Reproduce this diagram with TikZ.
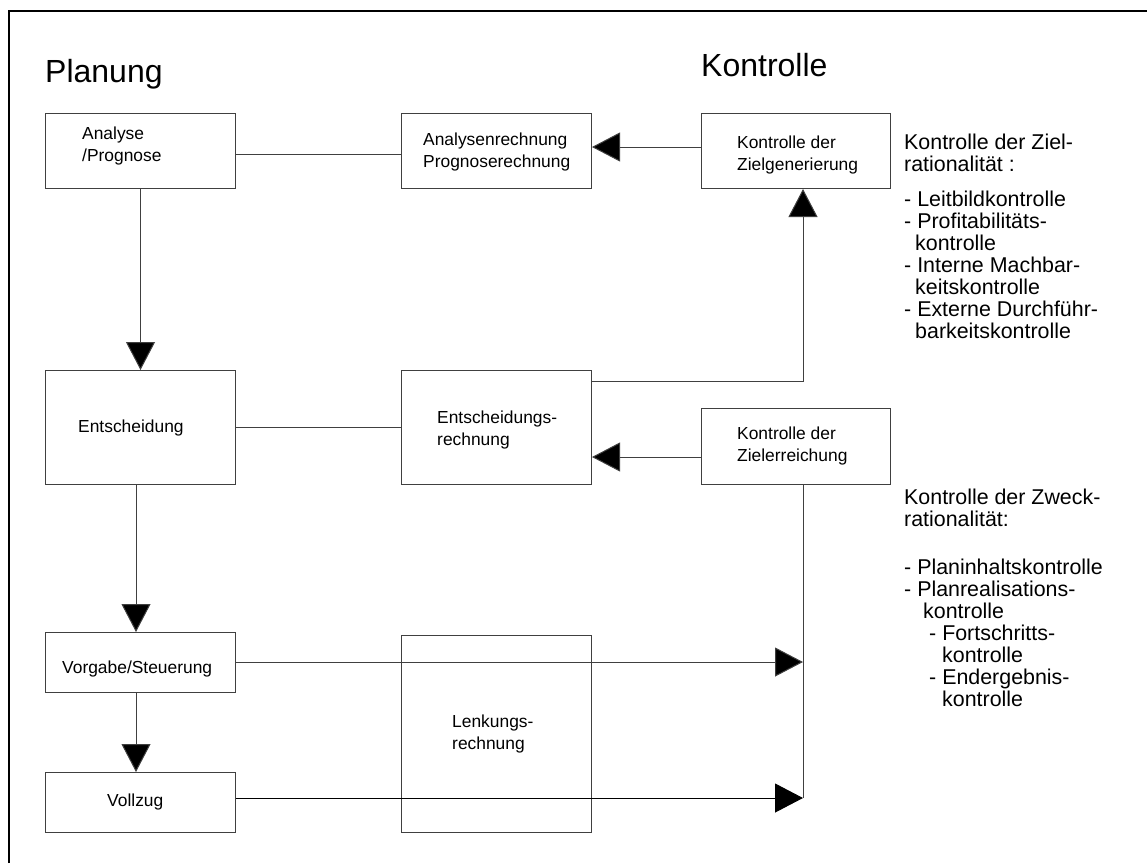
\documentclass[tikz,border=0pt]{standalone}
\usepackage{fontspec}
\setmainfont{Liberation Sans}
\usetikzlibrary{arrows.meta}
\begin{document}
\begin{tikzpicture}[x=1pt,y=-1pt,
  frame/.style={draw=black,line width=2pt},
  box/.style={draw=black!75,line width=1pt,rectangle,inner sep=0pt,anchor=north west},
  link/.style={draw=black!75,line width=1pt},
  arr/.style={link,-{Triangle[length=28pt,width=29pt,fill=black]}},
  boxtext/.style={inner sep=0pt,align=left,font=\fontsize{17.4}{22.5}\selectfont},
  title/.style={inner sep=0pt,font=\fontsize{32}{38}\selectfont},
  note/.style={inner sep=0pt,align=left,font=\fontsize{21.4}{22}\selectfont}]

\useasboundingbox (0,0) rectangle (1147,863);

% outer frame (left and top edges)
\draw[frame] (9,863) -- (9,11) -- (1147,11);

% headings
\node[title,anchor=base west] (plan) at (45,82) {Planung};
\node[title,anchor=base west] (kon) at (701,76) {Kontrolle};

% boxes
\node[box,minimum width=190pt,minimum height=75pt]  (ana) at (45,113) {};
\node[box,minimum width=190pt,minimum height=75pt]  (anr) at (401,113) {};
\node[box,minimum width=189pt,minimum height=75pt]  (kzg) at (701,113) {};
\node[box,minimum width=190pt,minimum height=114pt] (ent) at (45,370) {};
\node[box,minimum width=190pt,minimum height=114pt] (enr) at (401,370) {};
\node[box,minimum width=189pt,minimum height=76pt]  (kze) at (701,408) {};
\node[box,minimum width=190pt,minimum height=60pt]  (vor) at (45,632) {};
\node[box,minimum width=190pt,minimum height=60pt]  (vol) at (45,772) {};
\node[box,minimum width=190pt,minimum height=197pt] (len) at (401,635) {};

% box labels
\node[boxtext,anchor=north west] (ana-t) at (82,126.5) {Analyse\\/Prognose};
\node[boxtext,anchor=north west] (anr-t) at (423,132.5) {Analysenrechnung\\Prognoserechnung};
\node[boxtext,anchor=north west] (kzg-t) at (737,135.5) {Kontrolle der\\Zielgenerierung};
\node[boxtext,anchor=base west]  (ent-t) at (78,432) {Entscheidung};
\node[boxtext,anchor=north west] (enr-t) at (437,410.5) {Entscheidungs-\\rechnung};
\node[boxtext,anchor=north west] (kze-t) at (737,426.5) {Kontrolle der\\Zielerreichung};
\node[boxtext,anchor=base west]  (vor-t) at (62,673) {Vorgabe/Steuerung};
\node[boxtext,anchor=base west]  (vol-t) at (107,806) {Vollzug};
\node[boxtext,anchor=north west] (len-t) at (452,714.5) {Lenkungs-\\rechnung};

% side notes
\node[note,anchor=north west] (zr) at (904,134.2) {Kontrolle der Ziel-\\rationalität :\\[13pt]- Leitbildkontrolle\\- Profitabilitäts-\\\hspace*{11pt}kontrolle\\- Interne Machbar-\\\hspace*{11pt}keitskontrolle\\- Externe Durchführ-\\\hspace*{11pt}barkeitskontrolle};
\node[note,anchor=north west] (zw) at (904,489.2) {Kontrolle der Zweck-\\rationalität:\\[26pt]- Planinhaltskontrolle\\- Planrealisations-\\\hspace*{19pt}kontrolle\\\hspace*{25pt}- Fortschritts-\\\hspace*{38pt}kontrolle\\\hspace*{25pt}- Endergebnis-\\\hspace*{38pt}kontrolle};

% routing guides
\coordinate (gA) at (0,154);
\coordinate (gB) at (0,147);
\coordinate (gC) at (0,381);
\coordinate (gD) at (0,457);
\coordinate (xL) at (136,0);
\coordinate (busv) at (803,662);
\coordinate (bus) at (803,798);

% connectors
\draw[link] (ana.east |- gA) -- (anr.west |- gA);
\draw[arr] (kzg.west |- gB) -- (anr.east |- gB);
\draw[arr] (ana) -- (ent);
\draw[link] (ent) -- (enr);
\draw[arr] (enr.east |- gC) -| (kzg.south -| bus);
\draw[arr] (kze.west |- gD) -- (enr.east |- gD);
\draw[arr] (ent.south -| xL) -- (vor.north -| xL);
\draw[arr] (vor.south -| xL) -- (vol.north -| xL);
\draw[link] (kze.south -| bus) -- (bus);
\draw[arr] (vor.east |- busv) -- (busv);
\draw[link,draw=black,-{Triangle[length=28pt,width=29pt,fill=black]}] (vol.east |- bus) -- (bus);
\end{tikzpicture}
\end{document}
